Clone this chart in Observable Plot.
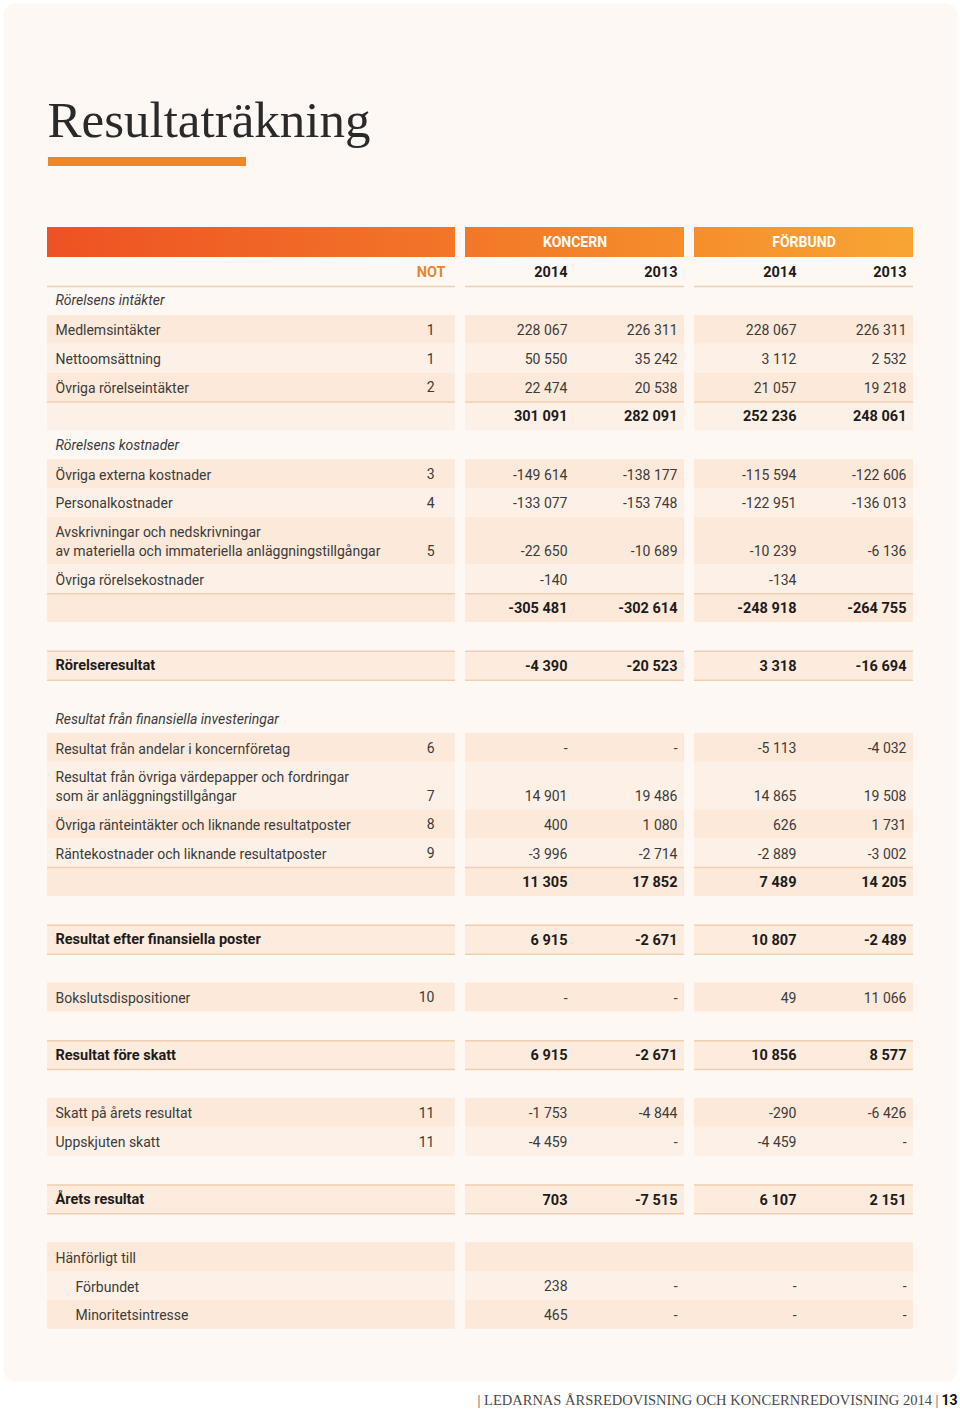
<!DOCTYPE html>
<html><head><meta charset="utf-8">
<script src="https://cdn.jsdelivr.net/npm/d3@7"></script>
<script src="https://cdn.jsdelivr.net/npm/@observablehq/plot@0.6"></script>
<style>body{margin:0;background:#fff}</style>
</head><body><div id="chart"></div>
<script>
// ---------- DATA ----------
const title = "Resultaträkning";
const groupHeaders = ["KONCERN", "FÖRBUND"];
const yearHeaders = ["2014", "2013", "2014", "2013"];
const noteHeader = "NOT";
const footerText = "| LEDARNAS ÅRSREDOVISNING OCH KONCERNREDOVISNING 2014 |";
const pageNumber = "13";
const DASH = "-";

const labels = [
  "Rörelsens intäkter",
  "Medlemsintäkter",
  "Nettoomsättning",
  "Övriga rörelseintäkter",
  "",
  "Rörelsens kostnader",
  "Övriga externa kostnader",
  "Personalkostnader",
  "Avskrivningar och nedskrivningar\nav materiella och immateriella anläggningstillgångar",
  "Övriga rörelsekostnader",
  "",
  "Rörelseresultat",
  "Resultat från finansiella investeringar",
  "Resultat från andelar i koncernföretag",
  "Resultat från övriga värdepapper och fordringar\nsom är anläggningstillgångar",
  "Övriga ränteintäkter och liknande resultatposter",
  "Räntekostnader och liknande resultatposter",
  "",
  "Resultat efter finansiella poster",
  "Bokslutsdispositioner",
  "Resultat före skatt",
  "Skatt på årets resultat",
  "Uppskjuten skatt",
  "Årets resultat",
  "Hänförligt till",
  "Förbundet",
  "Minoritetsintresse"
];
const rowTypes = [
  "section","item","item","item","subtotal",
  "section","item","item","item","item","subtotal",
  "total",
  "section","item","item","item","item","subtotal",
  "total","item","total","item","item","total",
  "group","sub","sub"
];
const notes = ["","1","1","2","","","3","4","5","","","","","6","7","8","9","","","10","","11","11","","","",""];
const koncern2014 = [null,228067,50550,22474,301091,null,-149614,-133077,-22650,-140,-305481,-4390,null,DASH,14901,400,-3996,11305,6915,DASH,6915,-1753,-4459,703,null,238,465];
const koncern2013 = [null,226311,35242,20538,282091,null,-138177,-153748,-10689,null,-302614,-20523,null,DASH,19486,1080,-2714,17852,-2671,DASH,-2671,-4844,DASH,-7515,null,DASH,DASH];
const forbund2014 = [null,228067,3112,21057,252236,null,-115594,-122951,-10239,-134,-248918,3318,null,-5113,14865,626,-2889,7489,10807,49,10856,-290,-4459,6107,null,DASH,DASH];
const forbund2013 = [null,226311,2532,19218,248061,null,-122606,-136013,-6136,null,-264755,-16694,null,-4032,19508,1731,-3002,14205,-2489,11066,8577,-6426,DASH,2151,null,DASH,DASH];

// ---------- LAYOUT / STYLE ----------
const W = 960, H = 1411;
const SANS = "Roboto, 'Liberation Sans', sans-serif";
const SERIF = "'Liberation Serif', 'DejaVu Serif', serif";
const panels = [{x1: 47, x2: 455}, {x1: 465, x2: 684}, {x1: 694, x2: 913}];
const mergedRight = {x1: 465, x2: 913};
const colRight = [567, 677, 796, 906];
const labelX = 55, subX = 75, noteX = 434, noteHeadX = 445;
const headerBand = {y1: 227, y2: 257}, yearY = 272;
const ROW = 28.85, TWO = 47.5, GAP = 28.85, GAP_SEC = 24.5, START = 286;
const shadeColor = {dark: "#fde9d9", light: "#fdf1e7", total: "#fdebdd"};
const lineColor = "#efcfb1";
const textColor = "#3b3b3b", boldColor = "#1c1c1c";

const fmt = d3.formatLocale({decimal: ",", thousands: "\u2009", grouping: [3], currency: ["", ""], minus: "-"}).format(",d");
const show = v => typeof v === "number" ? fmt(v).replace(/\u2009/g, " ").replace(/^-(\d) (\d{3})$/, (m, a, b) => m) : (v ?? "");

const rows = labels.map((label, i) => ({
  label, type: rowTypes[i], note: notes[i],
  vals: [koncern2014[i], koncern2013[i], forbund2014[i], forbund2013[i]]
}));
let y = START, shadeIdx = 0;
rows.forEach((r, i) => {
  const prev = rows[i - 1];
  if (prev && (prev.type === "total" || r.type === "total")) {
    y += (prev.type === "total" && r.type === "section") ? GAP_SEC : GAP;
    shadeIdx = 0;
  }
  const two = r.label.includes("\n");
  const h = two ? TWO : ROW;
  r.y1 = y; r.y2 = y + h; r.cy = y + h / 2; r.vy = two ? r.cy + 9.5 : r.cy;
  if (r.type === "section") { r.shade = null; shadeIdx = 0; }
  else if (r.type === "total") r.shade = "total";
  else { r.shade = shadeIdx % 2 === 0 ? "dark" : "light"; shadeIdx++; }
  r.bold = r.type === "subtotal" || r.type === "total";
  y += h;
});

const bands = rows.filter(r => r.shade).flatMap(r => {
  const ps = (r.type === "group" || r.type === "sub") ? [panels[0], mergedRight] : panels;
  return ps.map(p => ({x1: p.x1, x2: p.x2, y1: r.y1, y2: r.y2, fill: shadeColor[r.shade]}));
});
const lines = [
  ...panels.map(p => ({x1: p.x1, x2: p.x2, y: START})),
  ...rows.filter(r => r.type === "subtotal").flatMap(r => panels.map(p => ({x1: p.x1, x2: p.x2, y: r.y1}))),
  ...rows.filter(r => r.type === "total").flatMap(r => panels.flatMap(p => [{x1: p.x1, x2: p.x2, y: r.y1}, {x1: p.x1, x2: p.x2, y: r.y2}]))
];
const cells = rows.flatMap(r => r.vals.map((v, j) => ({x: colRight[j], y: r.vy, text: show(v), bold: r.bold})));
const labelRows = rows.filter(r => r.label);
const headerCells = groupHeaders.map((t, i) => ({text: t, x: (panels[i + 1].x1 + panels[i + 1].x2) / 2, y: (headerBand.y1 + headerBand.y2) / 2}));
const yearCells = yearHeaders.map((t, i) => ({text: t, x: colRight[i], y: yearY}));

const chart = Plot.plot({
  width: W, height: H,
  margin: 0,
  x: {type: "identity", axis: null},
  y: {type: "identity", axis: null},
  style: {background: "white", overflow: "visible"},
  marks: [
    Plot.frame({fill: "#fef8f4", stroke: "none", rx: 12, insetLeft: 3, insetRight: 3, insetTop: 3, insetBottom: 30}),
    // title + bar
    Plot.text([title], {frameAnchor: "top-left", dx: 47, dy: 100, text: d => d, fontFamily: SERIF, fontSize: 51, fill: "#2a2a2a", lineAnchor: "top"}),
    Plot.rect([{x1: 48, x2: 246, y1: 157, y2: 166}], {x1: "x1", x2: "x2", y1: "y1", y2: "y2", fill: "#f08522"}),
    // header bands
    Plot.rect(panels, {x1: "x1", x2: "x2", y1: () => headerBand.y1, y2: () => headerBand.y2, fill: "url(#hdrGrad)"}),
    Plot.text(headerCells, {x: "x", y: "y", text: "text", fill: "white", fontWeight: "bold", fontSize: 14, fontFamily: SANS}),
    Plot.text([noteHeader], {x: () => noteHeadX, y: () => yearY, text: d => d, textAnchor: "end", fill: "#e8862d", fontWeight: "bold", fontSize: 14.5, fontFamily: SANS}),
    Plot.text(yearCells, {x: "x", y: "y", text: "text", textAnchor: "end", fill: boldColor, fontWeight: "bold", fontSize: 14.5, fontFamily: SANS}),
    // row bands and lines
    Plot.rect(bands, {x1: "x1", x2: "x2", y1: "y1", y2: "y2", fill: "fill"}),
    Plot.ruleY(lines, {x1: "x1", x2: "x2", y: "y", stroke: lineColor, strokeWidth: 1.5}),
    // labels
    Plot.text(labelRows.filter(r => r.type === "section"), {
      x: () => labelX, y: "cy", text: "label", textAnchor: "start", fontStyle: "italic",
      fill: textColor, fontSize: 14, fontFamily: SANS
    }),
    Plot.text(labelRows.filter(r => !r.bold && r.type !== "section"), {
      x: r => r.type === "sub" ? subX : labelX, y: "cy", text: "label", textAnchor: "start",
      fill: textColor, fontSize: 14, fontFamily: SANS, lineHeight: 19 / 14, dy: -0.5
    }),
    Plot.text(labelRows.filter(r => r.bold), {x: () => labelX, y: "cy", text: "label", textAnchor: "start", fill: boldColor, fontWeight: "bold", fontSize: 14.5, fontFamily: SANS}),
    Plot.text(rows.filter(r => r.note), {x: () => noteX, y: "vy", text: "note", textAnchor: "end", fill: textColor, fontSize: 14, fontFamily: SANS, dy: 0.5}),
    // values
    Plot.text(cells.filter(c => !c.bold), {x: "x", y: "y", text: "text", textAnchor: "end", fill: textColor, fontSize: 14, fontFamily: SANS, dy: 1}),
    Plot.text(cells.filter(c => c.bold), {x: "x", y: "y", text: "text", textAnchor: "end", fill: boldColor, fontWeight: "bold", fontSize: 14.5, fontFamily: SANS, dy: 0.5}),
    // footer
    Plot.text([footerText], {frameAnchor: "bottom-right", dx: -22, dy: -7, text: d => d, textAnchor: "end", fill: "#4a4a4a", fontSize: 14.5, fontFamily: SERIF}),
    Plot.text([pageNumber], {frameAnchor: "bottom-right", dx: -3, dy: -7, text: d => d, textAnchor: "end", fill: "#111", fontWeight: "bold", fontSize: 14, fontFamily: SANS})
  ]
});

// gradient for header bands
const svg = d3.select(chart);
const defs = svg.insert("defs", ":first-child");
const grad = defs.append("linearGradient").attr("id", "hdrGrad").attr("gradientUnits", "userSpaceOnUse")
  .attr("x1", panels[0].x1).attr("x2", panels[2].x2).attr("y1", 0).attr("y2", 0);
[["0", "#ee5223"], ["0.45", "#f27428"], ["0.75", "#f58f2b"], ["1", "#f8a535"]].forEach(([o, c]) =>
  grad.append("stop").attr("offset", o).attr("stop-color", c));

document.getElementById("chart").appendChild(chart);
</script>
</body></html>
